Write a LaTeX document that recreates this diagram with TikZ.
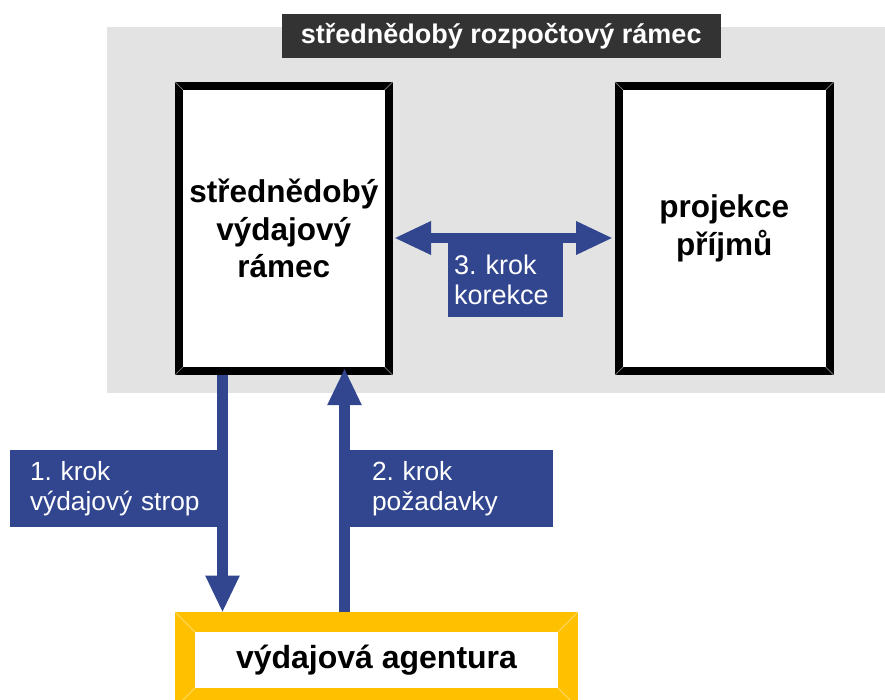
\documentclass[tikz,border=0pt]{standalone}
\usepackage{fontspec}
\setmainfont{Liberation Sans}
\usetikzlibrary{arrows.meta,calc}
\definecolor{bgray}{HTML}{E3E3E3}
\definecolor{tdark}{HTML}{333333}
\definecolor{kblue}{RGB}{49,70,143}
\definecolor{kyellow}{HTML}{FFC000}
\definecolor{kbevel}{HTML}{808080}
\definecolor{ybevel}{HTML}{FFD966}
\frenchspacing
\begin{document}
\begin{tikzpicture}[x=1pt,y=-1pt,
  frame/.style={draw=black, line width=8pt, fill=white, outer sep=0pt, inner sep=0pt,
    align=center, font=\fontsize{31.5}{37.5}\selectfont\bfseries},
  bigarrow/.style={draw=kblue, line width=11.5pt, -{Triangle[width=31.5pt,length=37pt]}},
  dblarrow/.style={draw=kblue, line width=10.5pt,
    {Triangle[width=31pt,length=37pt]}-{Triangle[width=31pt,length=37pt]}},
  lab/.style={fill=kblue, text=white, align=left, outer sep=0pt, inner ysep=0pt,
    anchor=north west, font=\fontsize{26.3}{30.5}\selectfont\frenchspacing},
  bevelk/.style={draw=kbevel, line width=0.7pt},
  bevely/.style={draw=ybevel, line width=0.8pt}
]
\useasboundingbox (0,0) rectangle (885,700);
% background region
\node[fill=bgray, anchor=north west, minimum width=778pt, minimum height=366pt,
  inner sep=0pt, outer sep=0pt] (mtbf) at (107,27) {};
\node[fill=tdark, text=white, font=\fontsize{27}{32}\selectfont\bfseries,
  minimum width=439.5pt, minimum height=44pt, inner sep=0pt] (title) at (501.25,36)
  {střednědobý rozpočtový rámec};
% frames
\node[frame, minimum width=209.7pt, minimum height=285pt] (vr) at (283.85,228.5)
  {střednědobý\\výdajový\\rámec};
\node[frame, minimum width=210.5pt, minimum height=285pt] (pp) at (724.25,228.5)
  {projekce\\příjmů};
\foreach \n in {vr,pp}
  \foreach \c/\sx/\sy in {north west/-1/-1, north east/1/-1, south west/-1/1, south east/1/1}
    \draw[bevelk] ($(\n.\c)+(4*\sx,4*\sy)$) -- ($(\n.\c)+(-4*\sx,-4*\sy)$);
% agency
\node[draw=kyellow, line width=20pt, fill=white, outer sep=0pt, inner sep=0pt,
  minimum width=383pt, minimum height=76pt,
  font=\fontsize{32}{38}\selectfont\bfseries] (agency) at (376.5,660) {výdajová agentura};
\foreach \c/\sx/\sy in {north west/-1/-1, north east/1/-1, south west/-1/1, south east/1/1}
  \draw[bevely] ($(agency.\c)+(10*\sx,10*\sy)$) -- ($(agency.\c)+(-10*\sx,-10*\sy)$);
% arrows
\draw[bigarrow] ($(vr.south west)+(43.5,4)$) -- ($(agency.north west)+(37.5,-9.3)$);
\draw[bigarrow] ($(agency.north west)+(159.5,-10)$) -- ($(vr.south west)+(165.5,-3)$);
\draw[dblarrow] ($(vr.east)+(5.3,9.5)$) -- ($(pp.west)+(-6,9.5)$);
% labels
\node[lab, inner xsep=20pt, text width=167pt, minimum height=77pt] (l1) at (10,450)
  {1. krok\\\mbox{výdajový strop}};
\node[lab, inner xsep=22pt, text width=159pt, minimum height=77pt] (l2) at (350,450)
  {2. krok\\požadavky};
\node[lab, inner xsep=6pt, text width=103pt, minimum height=74pt,
  font=\fontsize{27}{30}\selectfont\frenchspacing] (l3) at (448,243)
  {3. krok\\korekce};
\end{tikzpicture}
\end{document}
